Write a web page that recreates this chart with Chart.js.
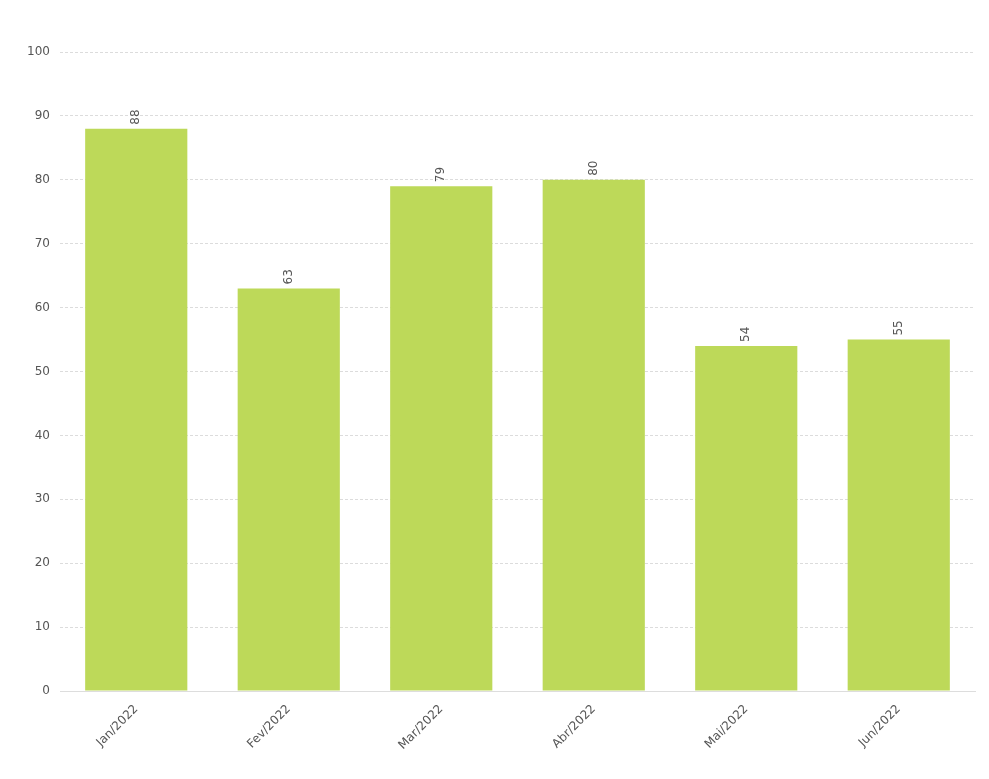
<!DOCTYPE html>
<html>
<head>
<meta charset="utf-8">
<script src="https://cdn.jsdelivr.net/npm/chart.js@4"></script>
<style>
  html, body { margin: 0; padding: 0; background: #fff; }
  #wrap { width: 989px; height: 779px; }
</style>
</head>
<body>
<div id="wrap"><canvas id="chart"></canvas></div>
<script>
const categories = ["Jan/2022", "Fev/2022", "Mar/2022", "Abr/2022", "Mai/2022", "Jun/2022"];
const values = [88, 63, 79, 80, 54, 55];
const yTicks = [0, 10, 20, 30, 40, 50, 60, 70, 80, 90, 100];

// vertical value labels above each bar
const barLabels = {
  id: "barLabels",
  afterDatasetsDraw(chart) {
    const ctx = chart.ctx;
    const meta = chart.getDatasetMeta(0);
    ctx.save();
    ctx.font = "12px 'DejaVu Sans', Arial, sans-serif";
    ctx.fillStyle = "#555";
    ctx.textAlign = "left";
    ctx.textBaseline = "middle";
    meta.data.forEach((bar, i) => {
      ctx.save();
      ctx.translate(bar.x, bar.y - 4);
      ctx.rotate(-Math.PI / 2);
      ctx.fillText(String(values[i]), 0, 0);
      ctx.restore();
    });
    ctx.restore();
  },
};

new Chart(document.getElementById("chart"), {
  type: "bar",
  data: {
    labels: categories,
    datasets: [
      {
        data: values,
        backgroundColor: "#bdd959",
        categoryPercentage: 0.67,
        barPercentage: 1,
      },
    ],
  },
  options: {
    responsive: true,
    maintainAspectRatio: false,
    animation: false,
    layout: { padding: { top: 52, right: 14, left: 0, bottom: 0 } },
    plugins: { legend: { display: false }, tooltip: { enabled: false } },
    scales: {
      x: {
        grid: { display: false },
        border: { color: "#ddd", dash: [3, 2] },
        ticks: {
          color: "#555",
          font: { size: 12, family: "'DejaVu Sans', Arial, sans-serif" },
          maxRotation: 45,
          minRotation: 45,
        },
        afterFit(scale) { scale.height = 88; },
      },
      y: {
        min: 0,
        max: 100,
        afterBuildTicks(scale) { scale.ticks = yTicks.map(v => ({ value: v })); },
        grid: { color: "#dcdcdc", drawTicks: false },
        border: { display: false, dash: [3, 2] },
        ticks: {
          color: "#555",
          padding: 10,
          font: { size: 12, family: "'DejaVu Sans', Arial, sans-serif" },
        },
        afterFit(scale) { scale.width = 60; },
      },
    },
  },
  plugins: [barLabels],
});
</script>
</body>
</html>
